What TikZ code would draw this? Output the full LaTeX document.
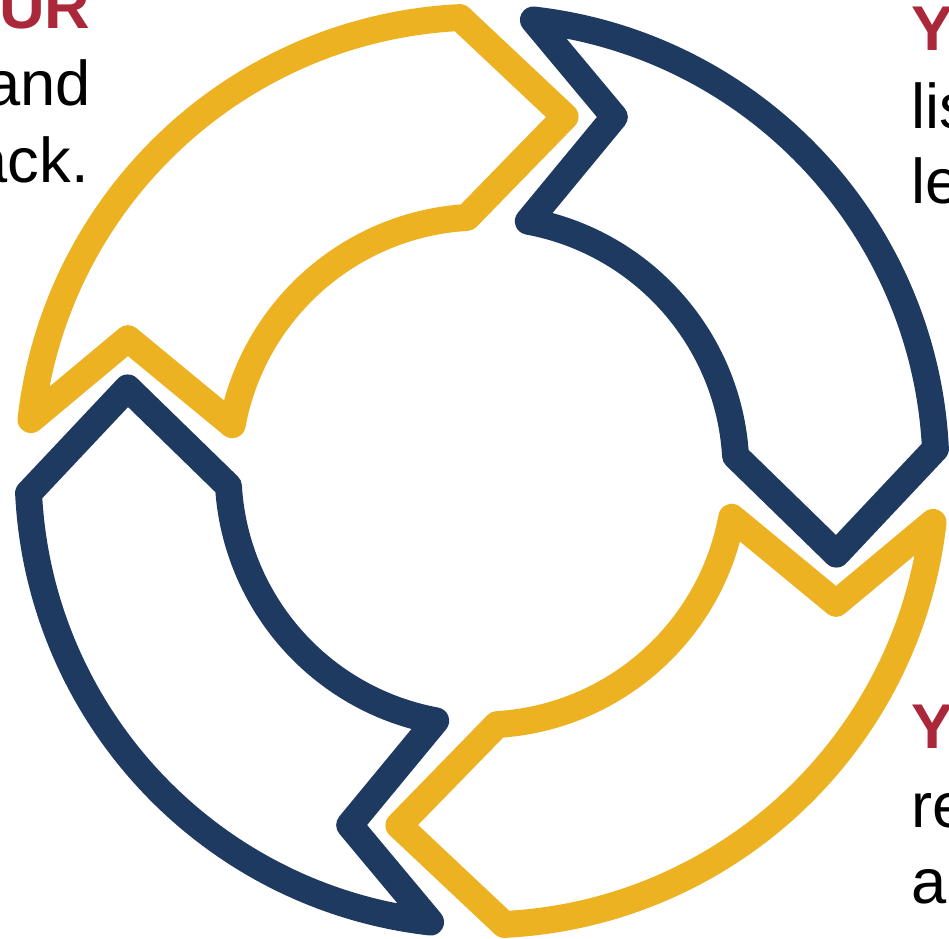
\documentclass[tikz,border=0pt]{standalone}
\usepackage{fontspec}
\setmainfont{Liberation Sans}

\definecolor{amarillo}{RGB}{236,178,34}
\definecolor{azul}{RGB}{31,58,96}
\definecolor{rojo}{RGB}{170,40,58}

\tikzset{
  flecha/.style={line width=15.3pt, line join=round},
  texto/.style={inner sep=0pt, font=\fontsize{36}{43}\selectfont},
  titulo/.style={texto, text=rojo, font=\fontsize{36}{43}\selectfont\bfseries}
}

\begin{document}
\begin{tikzpicture}[x=0.02cm,y=0.02cm]

        % Marco de la imagen
        \useasboundingbox (-482,-467) rectangle (467,471);
        \clip (-482,-467) rectangle (467,471);

        % Flechas del ciclo (una forma, girada cuatro veces)
        \draw[flecha, amarillo] (173.5:454) arc[start angle=173.5, end angle=92.8, radius=454]
             -- (76.8:364) -- (93.4:254) arc[start angle=93.4, end angle=169.5, radius=254]
             -- (159.5:378) -- cycle;
        \draw[flecha, azul, rotate=-90] (173.5:454) arc[start angle=173.5, end angle=92.8, radius=454]
             -- (76.8:364) -- (93.4:254) arc[start angle=93.4, end angle=169.5, radius=254]
             -- (159.5:378) -- cycle;
        \draw[flecha, amarillo, rotate=-180] (173.5:454) arc[start angle=173.5, end angle=92.8, radius=454]
             -- (76.8:364) -- (93.4:254) arc[start angle=93.4, end angle=169.5, radius=254]
             -- (159.5:378) -- cycle;
        \draw[flecha, azul, rotate=90] (173.5:454) arc[start angle=173.5, end angle=92.8, radius=454]
             -- (76.8:364) -- (93.4:254) arc[start angle=93.4, end angle=169.5, radius=254]
             -- (159.5:378) -- cycle;

        % Texto arriba a la izquierda
        \node[titulo, anchor=base east] (izq1) at (-391,443) {OUR};
        \node[texto, anchor=base east] (izq2) at (-391,366) {and};
        \node[texto, anchor=base east] (izq3) at (-393,289) {ack.};

        % Texto arriba a la derecha
        \node[titulo, anchor=base west] (der1) at (429,421) {Y};
        \node[texto, anchor=base west] (der2) at (429,343) {lis};
        \node[texto, anchor=base west] (der3) at (429,268) {le};

        % Texto abajo a la derecha
        \node[titulo, anchor=base west] (abj1) at (429,-277) {Y};
        \node[texto, anchor=base west] (abj2) at (429,-356) {re};
        \node[texto, anchor=base west] (abj3) at (429,-432) {ar};

    \end{tikzpicture}
\end{document}
